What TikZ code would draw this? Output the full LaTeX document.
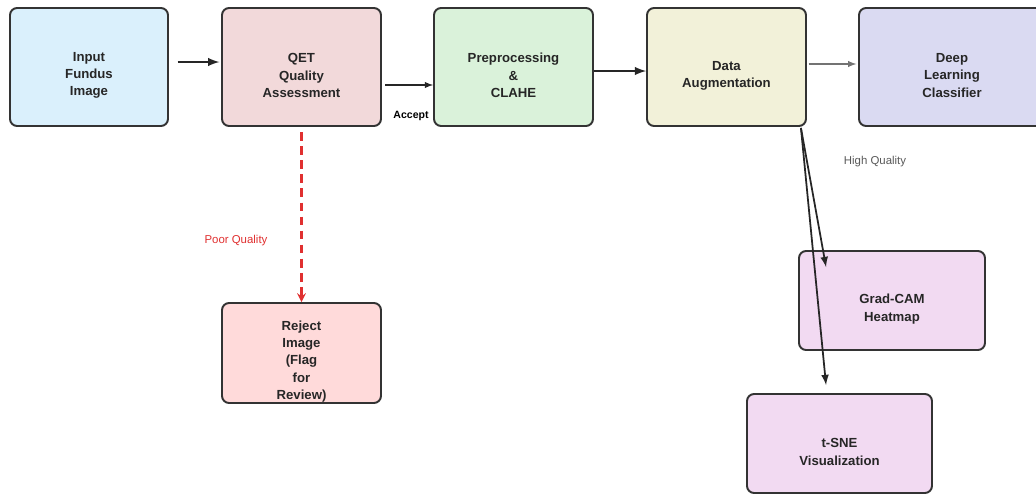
\documentclass[tikz,border=0pt]{standalone}
\usepackage{fontspec}
\setmainfont{Liberation Sans}
\usetikzlibrary{arrows}
\definecolor{inputblue}{HTML}{DAF0FC}
\definecolor{qetpink}{HTML}{F2D9DA}
\definecolor{prepgreen}{HTML}{DAF2DA}
\definecolor{augyellow}{HTML}{F2F1D9}
\definecolor{deepviolet}{HTML}{DADAF2}
\definecolor{rejectred}{HTML}{FFDADA}
\definecolor{vislilac}{HTML}{F2DAF2}
\definecolor{poorred}{HTML}{E03030}
\tikzstyle{stagebox}=[rectangle,rounded corners=4pt,draw=black!80,line width=1.1pt,inner sep=0pt]
\tikzstyle{boxlabel}=[font=\bfseries\fontsize{7.5}{9.8}\selectfont,align=center,text=black!85,yshift=-0.17cm]
\tikzstyle{flow}=[draw=black!85,->,>=latex,line width=0.6pt]
\tikzstyle{thickflow}=[draw=black!85,->,>=latex,line width=1.2pt]
\tikzstyle{rejectflow}=[draw=poorred,->,>=stealth,line width=1.2pt,dash pattern=on 5pt off 3pt]
\tikzstyle{edgetext}=[font=\fontsize{6.5}{8}\selectfont]

\begin{document}
\begin{tikzpicture}[x=0.02cm,y=-0.02cm]
    \useasboundingbox (0,0) rectangle (1036,495);
    \clip (0,0) rectangle (1036,495);

    \foreach \pos/\name/\col/\w/\h/\txt in {{(89,67)/input/inputblue/3.16/2.36/{Input\\Fundus\\Image}},
        {(301.5,67)/qet/qetpink/3.18/2.36/{QET\\Quality\\Assessment}},
        {(513.5,67)/prep/prepgreen/3.18/2.36/{Preprocessing\\\&\\CLAHE}},
        {(726.5,67)/aug/augyellow/3.18/2.36/{Data\\Augmentation}},
        {(952,67)/deep/deepviolet/3.72/2.36/{Deep\\Learning\\Classifier}},
        {(301.5,353)/reject/rejectred/3.18/2.0/{Reject\\Image\\(Flag\\for\\Review)}},
        {(892,300.5)/gradcam/vislilac/3.72/1.98/{Grad-CAM\\Heatmap}},
        {(839.5,443.5)/tsne/vislilac/3.7/1.98/{t-SNE\\Visualization}}}
        \node[stagebox,fill=\col,minimum width=\w cm,minimum height=\h cm,
              label={[boxlabel]center:\txt}] (\name) at \pos {};

    % main row
    \draw[thickflow,shorten <=5pt,shorten >=1pt] ([yshift=0.1cm]input.east) -- ([yshift=0.1cm]qet.west);
    \draw[flow,shorten <=2pt] ([yshift=-0.36cm]qet.east) -- ([yshift=-0.36cm]prep.west);
    \draw[thickflow] ([yshift=-0.08cm]prep.east) -- ([yshift=-0.08cm]aug.west);
    \draw[flow,draw=black!55,shorten <=1pt,shorten >=1pt] ([yshift=0.06cm]aug.east) -- ([yshift=0.06cm]deep.west);

    % reject branch
    \draw[rejectflow,shorten <=3pt] (qet.south) -- (reject.north);

    % explanation branch
    \coordinate (split) at ([shift={(-6,1)}]aug.south east);
    \coordinate (gradtip) at ([shift={(28,17)}]gradcam.north west);
    \coordinate (tsnetip) at ([shift={(80,-8)}]tsne.north west);
    \draw[flow,line width=1pt] (split) -- (gradtip);
    \draw[flow,line width=1pt] (split) -- (tsnetip);

    \node[edgetext,font=\bfseries\fontsize{6}{7}\selectfont] (accept) at (411,116) {Accept};
    \node[edgetext,text=poorred] (poor) at (236,241) {Poor Quality};
    \node[edgetext,text=black!65] (high) at (875,162) {High Quality};
\end{tikzpicture}
\end{document}
